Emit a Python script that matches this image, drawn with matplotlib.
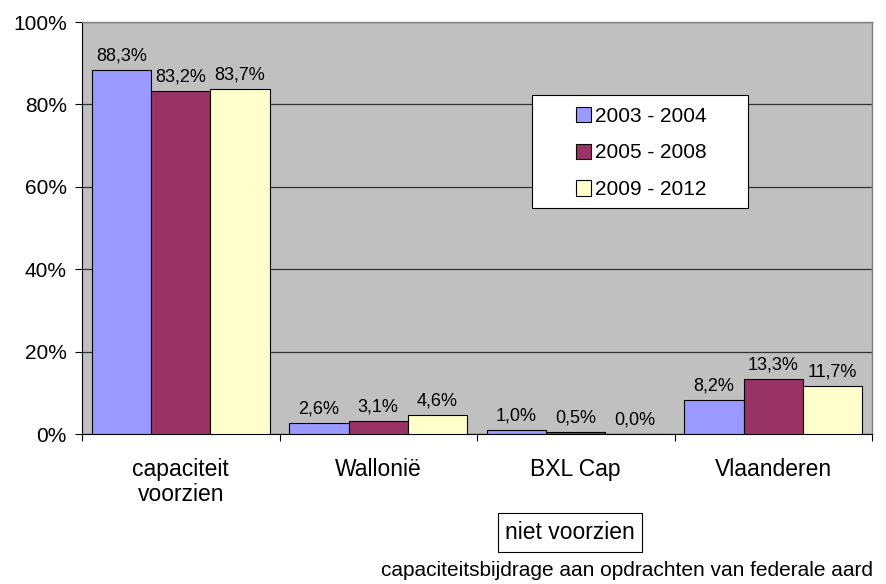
import matplotlib
matplotlib.use("Agg")
import matplotlib.pyplot as plt
import numpy as np
from matplotlib.patches import Patch, Rectangle

plt.rcParams['font.family'] = ['Liberation Sans', 'DejaVu Sans']

categories = ['capaciteit\nvoorzien', 'Wallonië', 'BXL Cap', 'Vlaanderen']
series = ['2003 - 2004', '2005 - 2008', '2009 - 2012']
values = [
    [88.3, 2.6, 1.0, 8.2],
    [83.2, 3.1, 0.5, 13.3],
    [83.7, 4.6, 0.0, 11.7],
]
colors = ['#9999FF', '#993366', '#FFFFCC']

W, H = 886, 584
fig = plt.figure(figsize=(W / 100, H / 100), dpi=100)
ax = fig.add_axes([82 / W, 1 - 434 / H, 790 / W, 412 / H])
ax.set_facecolor('#C0C0C0')

x = np.arange(len(categories))
width = 0.3
for i, (name, vals, col) in enumerate(zip(series, values, colors)):
    pos = x + (i - 1) * width
    ax.bar(pos, vals, width, color=col, edgecolor='black', linewidth=0.8,
           label=name, zorder=3)
    for p, v in zip(pos, vals):
        ax.annotate(f'{v:.1f}%'.replace('.', ','), (p, v), xytext=(0, 4),
                    textcoords='offset points', ha='center', va='bottom',
                    fontsize=13, zorder=4)

ax.set_xlim(-0.5, len(categories) - 0.5)
ax.set_ylim(0, 100)
ax.set_yticks(np.arange(0, 101, 20))
ax.set_yticklabels([f'{t}%' for t in range(0, 101, 20)], fontsize=15)
ax.yaxis.grid(True, color='#333333', linewidth=0.9, zorder=0)
ax.set_axisbelow(True)

# category separators as ticks, labels on minor ticks
ax.set_xticks(np.arange(-0.5, len(categories), 1.0))
ax.set_xticklabels([])
ax.set_xticks(x, minor=True)
ax.set_xticklabels(categories, minor=True, fontsize=16.5, linespacing=1.15)
ax.tick_params(axis='x', which='minor', length=0, pad=17)
ax.tick_params(axis='x', which='major', length=5, direction='out', width=0.8)
ax.tick_params(axis='y', length=5, direction='out', width=0.8, pad=6)

for s in ['top', 'right']:
    ax.spines[s].set_color('#808080')
    ax.spines[s].set_linewidth(1.0)
for s in ['left', 'bottom']:
    ax.spines[s].set_linewidth(0.8)

# legend: white box with wide side margins, entries centred inside
fig.add_artist(Rectangle((532 / W, 1 - 208 / H), 216 / W, 113 / H,
                         transform=fig.transFigure, facecolor='white',
                         edgecolor='black', linewidth=0.8, zorder=5))
handles = [Patch(facecolor=c, edgecolor='black', linewidth=0.8) for c in colors]
leg = fig.legend(handles, series, loc='center',
                 bbox_to_anchor=(641 / W, 1 - 153 / H), fontsize=15,
                 frameon=False, handlelength=0.75, handleheight=0.75,
                 handletextpad=0.15, labelspacing=0.85, borderpad=0,
                 borderaxespad=0)
leg.set_zorder(6)

fig.text(570 / W, 1 - 532.5 / H, 'niet voorzien', ha='center', va='center',
         fontsize=16.5,
         bbox=dict(boxstyle='square,pad=0.33', facecolor='white',
                   edgecolor='black', linewidth=0.8))
fig.text(627 / W, 1 - 570 / H,
         'capaciteitsbijdrage aan opdrachten van federale aard',
         ha='center', va='center', fontsize=15)

fig.savefig('out.png', dpi=100)
